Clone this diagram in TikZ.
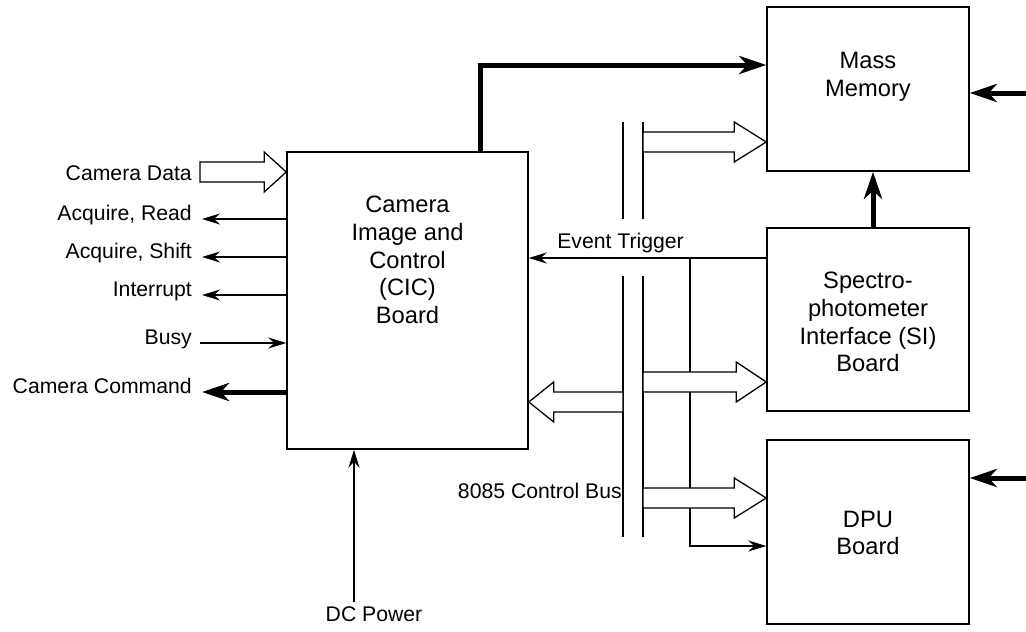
\documentclass[tikz,border=0pt]{standalone}
\usepackage{fontspec}
\setmainfont{Liberation Sans}
\usetikzlibrary{arrows.meta}

% hollow bus arrow: tail, tip, x offset of the head base from the tip
\newcommand{\hollowarrow}[3]{%
  \draw[hollow] ([yshift=10]#1) -- ([xshift=#3,yshift=10]#2) -- ([xshift=#3,yshift=20]#2) -- (#2)
    -- ([xshift=#3,yshift=-20]#2) -- ([xshift=#3,yshift=-10]#2) -- ([yshift=-10]#1) -- cycle;}

\begin{document}
\begin{tikzpicture}[x=1pt, y=-1pt,
    board/.style={draw, line width=1.5pt, inner sep=0pt},
    boardtxt/.style={align=center, font=\fontsize{23.7}{27.7}\selectfont},
    lbl/.style={inner sep=0pt, font=\fontsize{21.2}{25}\selectfont},
    sig/.style={line width=1.3pt, >={Stealth[length=18pt,width=11pt,inset=6pt]}},
    bigsig/.style={line width=5pt, >={Stealth[length=27pt,width=18pt,inset=8pt]}},
    hollow/.style={draw, line width=1.3pt, fill=white, line join=miter},
    busline/.style={line width=1.3pt}]
  \useasboundingbox (0,0) rectangle (1026,632);
  % Platinen
  \node[board, minimum width=241, minimum height=297] (cic) at (407.5,300.5) {};
  \node[board, minimum width=202, minimum height=164] (mm) at (868,89) {};
  \node[board, minimum width=202, minimum height=183] (si) at (868,319.5) {};
  \node[board, minimum width=202, minimum height=184] (dpu) at (868,532) {};
  \node[boardtxt] (cictxt) at (407.5,260) {Camera\\Image and\\Control\\(CIC)\\Board};
  \node[boardtxt] (mmtxt) at (868,77) {Mass\\Memory};
  \node[boardtxt] (sitxt) at (868,322) {Spectro-\\photometer\\Interface (SI)\\Board};
  \node[boardtxt] (dputxt) at (868,533) {DPU\\Board};
  % Signale links
  \node[lbl, anchor=base east] (cdata) at (192,180) {Camera Data};
  \node[lbl, anchor=base east] (rd) at (192,220) {Acquire, Read};
  \node[lbl, anchor=base east] (sh) at (192,258) {Acquire, Shift};
  \node[lbl, anchor=base east] (intr) at (192,296) {Interrupt};
  \node[lbl, anchor=base east] (busy) at (192,344) {Busy};
  \node[lbl, anchor=base east] (cmd) at (192,393) {Camera Command};
  \coordinate (cdtail) at ([xshift=8,yshift=8]cdata.base east);
  \coordinate (cdtip) at (cic.west |- cdtail);
  \hollowarrow{cdtail}{cdtip}{-22}
  \draw[sig,->] ([yshift=1]cic.west |- rd.base) -- ([xshift=10,yshift=1]rd.base east);
  \draw[sig,->] ([yshift=1]cic.west |- sh.base) -- ([xshift=10,yshift=1]sh.base east);
  \draw[sig,->] ([yshift=1]cic.west |- intr.base) -- ([xshift=10,yshift=1]intr.base east);
  \draw[sig,->] ([xshift=8,yshift=1]busy.base east) -- ([yshift=1]cic.west |- busy.base);
  \draw[bigsig,->] ([yshift=1]cic.west |- cmd.base) -- ([xshift=10,yshift=1]cmd.base east);
  % Versorgung
  \node[lbl, anchor=base] (dcp) at (374,621) {DC Power};
  \draw[sig,->] ([xshift=-20,yshift=4]dcp.north) -- ([xshift=-20]dcp.north |- cic.south);
  % Datenwege zum Speicher
  \draw[bigsig,->] ([xshift=72.5]cic.north) |- ([yshift=24]mm.west);
  \draw[bigsig,->] ([xshift=5]si.north) -- ([xshift=5]mm.south);
  \draw[bigsig,<-] ([yshift=-4]mm.east) -- ++(57,0);
  \draw[bigsig,<-] ([yshift=54]dpu.east) -- ++(57,0);
  % Event Trigger
  \node[lbl, anchor=base] (evtxt) at (620.5,248) {Event Trigger};
  \coordinate (evt) at ([yshift=61.5]si.west);
  \coordinate (tap) at (evt -| 690,0);
  \draw[sig,->] (evt) -- (evt -| cic.east);
  \draw[sig,->] (tap) |- ([yshift=-14]dpu.west);
  % 8085 Bus
  \coordinate (busL) at (623,122);
  \coordinate (busR) at (643,122);
  \draw[busline] (busL) -- (623,219) (623,276) -- (623,537);
  \draw[busline] (busR) -- (643,219) (643,276) -- (643,537);
  \node[lbl, anchor=base east] (ctlbus) at (622,498) {8085 Control Bus};
  \coordinate (mmtail) at (busR |- 0,142);
  \coordinate (mmtip) at (mm.west |- mmtail);
  \coordinate (cictail) at (busL |- 0,402);
  \coordinate (cictip) at (cic.east |- cictail);
  \coordinate (sitail) at (busR |- 0,382);
  \coordinate (sitip) at (si.west |- sitail);
  \coordinate (dputail) at (busR |- 0,498);
  \coordinate (dputip) at (dpu.west |- dputail);
  \hollowarrow{mmtail}{mmtip}{-32}
  \hollowarrow{cictail}{cictip}{25}
  \hollowarrow{sitail}{sitip}{-30}
  \hollowarrow{dputail}{dputip}{-32}
\end{tikzpicture}
\end{document}
